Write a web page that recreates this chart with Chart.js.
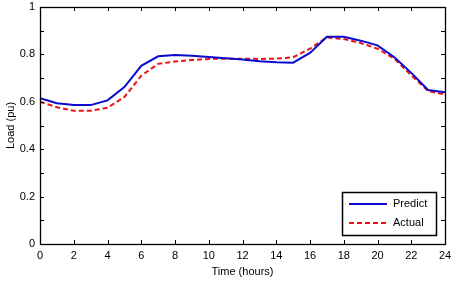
<!DOCTYPE html>
<html><head><meta charset="utf-8">
<script src="https://cdn.jsdelivr.net/npm/chart.js@4"></script>
<style>html,body{margin:0;padding:0;background:#fff;}#wrap{width:452px;height:284px;}</style>
</head><body><div id="wrap"><canvas id="c" width="452" height="284"></canvas></div>
<script>
const hours = [0,1,2,3,4,5,6,7,8,9,10,11,12,13,14,15,16,17,18,19,20,21,22,23,24];
const predict = [0.615,0.594,0.586,0.586,0.606,0.662,0.752,0.792,0.797,0.794,0.789,0.784,0.778,0.771,0.767,0.765,0.806,0.874,0.874,0.858,0.838,0.788,0.722,0.650,0.640];
const actual = [0.600,0.577,0.562,0.562,0.575,0.620,0.710,0.760,0.770,0.776,0.781,0.782,0.782,0.781,0.782,0.788,0.824,0.872,0.865,0.848,0.824,0.782,0.712,0.645,0.631];
const xTicks = [0,2,4,6,8,10,12,14,16,18,20,22,24];
const yMinorTicks = [0,0.1,0.2,0.3,0.4,0.5,0.6,0.7,0.8,0.9,1];
const seriesNames = ['Predict','Actual'];

const FONT = 'Liberation Sans, Arial, sans-serif';
Chart.defaults.font.family = FONT;
Chart.defaults.font.size = 11;
Chart.defaults.color = '#000';

const framePlugin = {
  id: 'frame',
  afterDraw(chart) {
    const ctx = chart.ctx, a = chart.chartArea;
    const xs = chart.scales.x, ys = chart.scales.y;
    ctx.save();
    ctx.strokeStyle = '#000';
    ctx.lineWidth = 1;
    ctx.beginPath();
    const L = 4;
    xTicks.forEach(v => {
      const px = Math.round(xs.getPixelForValue(v)) + 0.5;
      ctx.moveTo(px, a.bottom); ctx.lineTo(px, a.bottom - L);
      ctx.moveTo(px, a.top); ctx.lineTo(px, a.top + L);
    });
    yMinorTicks.forEach(v => {
      const py = Math.round(ys.getPixelForValue(v)) + 0.5;
      ctx.moveTo(a.left, py); ctx.lineTo(a.left + L, py);
      ctx.moveTo(a.right, py); ctx.lineTo(a.right - L, py);
    });
    ctx.stroke();
    ctx.lineWidth = 1.3;
    ctx.strokeRect(Math.round(a.left) + 0.5, Math.round(a.top) + 0.5, Math.round(a.right - a.left), Math.round(a.bottom - a.top));
    // legend
    const bx = 342, by = 192, bw = 94, bh = 43;
    ctx.fillStyle = '#fff';
    ctx.fillRect(bx, by, bw, bh);
    ctx.lineWidth = 1.5;
    ctx.strokeRect(bx + 0.5, by + 0.5, bw, bh);
    chart.data.datasets.forEach((ds, i) => {
      const ly = by + 12 + i * 19;
      ctx.strokeStyle = ds.borderColor;
      ctx.lineWidth = 2;
      ctx.setLineDash(ds.borderDash || []);
      ctx.beginPath(); ctx.moveTo(349, ly); ctx.lineTo(387, ly); ctx.stroke();
      ctx.setLineDash([]);
      ctx.fillStyle = '#000';
      ctx.font = '11px ' + FONT;
      ctx.textBaseline = 'middle';
      ctx.textAlign = 'left';
      ctx.fillText(ds.label, 393, ly);
    });
    ctx.restore();
  }
};

new Chart(document.getElementById('c'), {
  type: 'line',
  data: {
    datasets: [
      { label: seriesNames[0], data: hours.map((h, i) => ({x: h, y: predict[i]})), borderColor: '#0a0acc', borderWidth: 2, pointRadius: 0, tension: 0, fill: false },
      { label: seriesNames[1], data: hours.map((h, i) => ({x: h, y: actual[i]})), borderColor: '#ee1111', borderWidth: 2, borderDash: [5, 3], pointRadius: 0, tension: 0, fill: false }
    ]
  },
  options: {
    responsive: false,
    animation: false,
    layout: { padding: { left: 0, right: 0, top: 0, bottom: 0 } },
    plugins: { legend: { display: false }, tooltip: { enabled: false } },
    scales: {
      x: {
        type: 'linear', min: 0, max: 24,
        afterBuildTicks(s) { s.ticks = xTicks.map(v => ({value: v})); },
        afterFit(s) { s.height = 40; s.paddingRight = 7; s.paddingLeft = 0; },
        grid: { display: false, drawTicks: false },
        border: { display: false },
        ticks: { padding: 5, maxRotation: 0, autoSkip: false, font: { size: 11 } },
        title: { display: true, text: 'Time (hours)', padding: { top: 0, bottom: 5 }, font: { size: 11 } }
      },
      y: {
        min: 0, max: 1,
        ticks: { stepSize: 0.2, padding: 5, font: { size: 11 }, callback: v => String(Math.round(v * 10) / 10) },
        afterFit(s) { s.width = 40; s.paddingTop = 7; s.paddingBottom = 0; },
        grid: { display: false, drawTicks: false },
        border: { display: false },
        title: { display: true, text: 'Load (pu)', padding: { top: 4, bottom: 2 }, font: { size: 11 } }
      }
    }
  },
  plugins: [framePlugin]
});
</script></body></html>
